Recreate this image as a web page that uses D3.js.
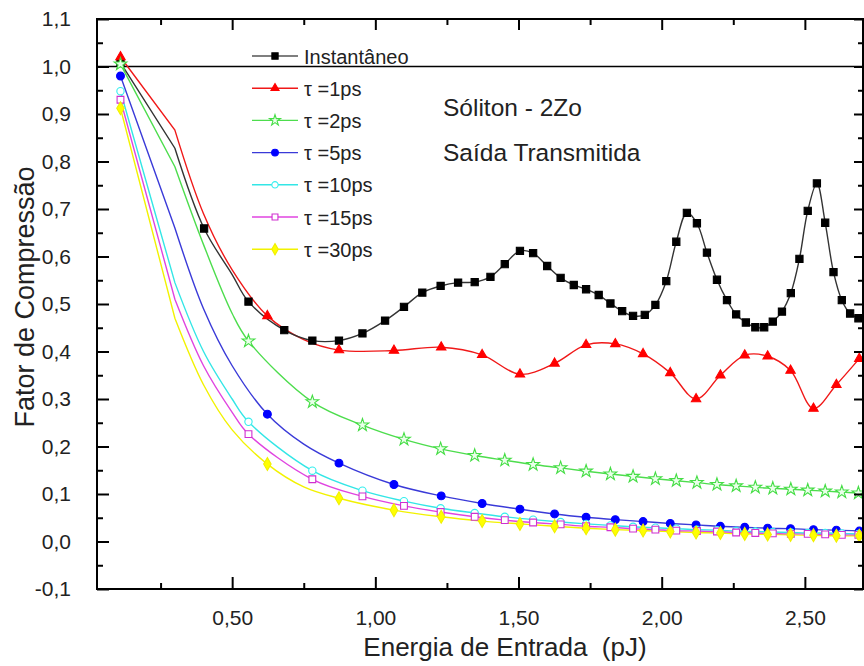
<!DOCTYPE html>
<html>
<head>
<meta charset="utf-8">
<script src="https://cdn.jsdelivr.net/npm/d3@7"></script>
<style>
  html, body { margin: 0; padding: 0; background: #fff; }
  svg { display: block; font-family: "Liberation Sans", Arial, sans-serif; }
</style>
</head>
<body>
<svg id="chart" width="864" height="666"></svg>
<script>
// ---------- DATA ----------
const energyA = [0.11, 0.3, 0.4, 0.5, 0.623, 0.75, 0.873, 1.065, 1.23, 1.373, 1.505, 1.626, 1.736, 1.838, 1.935, 2.03, 2.12, 2.205, 2.29, 2.37, 2.45, 2.53, 2.61, 2.69];
const energyB = [0.11, 0.3, 0.402, 0.5, 0.557, 0.682, 0.78, 0.873, 0.955, 1.034, 1.10, 1.164, 1.228, 1.289, 1.347, 1.402, 1.452, 1.505, 1.551, 1.60, 1.647, 1.693, 1.736, 1.78, 1.821, 1.862, 1.90, 1.941, 1.978, 2.016, 2.051, 2.088, 2.123, 2.158, 2.193, 2.228, 2.26, 2.294, 2.327, 2.358, 2.388, 2.42, 2.451, 2.481, 2.51, 2.542, 2.571, 2.60, 2.629, 2.658, 2.687];
const energyC = [0.11, 0.3, 0.4, 0.5, 0.557, 0.78, 0.955, 1.10, 1.228, 1.347, 1.452, 1.551, 1.647, 1.736, 1.821, 1.90, 1.978, 2.051, 2.123, 2.193, 2.26, 2.327, 2.388, 2.451, 2.51, 2.571, 2.629, 2.687];
const energyNoMarker = [0.3, 0.4, 0.5, 0.75];

const yInstantaneo = [1.008, 0.828, 0.659, 0.562, 0.505, 0.445, 0.423, 0.423, 0.438, 0.465, 0.494, 0.524, 0.538, 0.545, 0.546, 0.557, 0.584, 0.612, 0.607, 0.58, 0.555, 0.54, 0.531, 0.519, 0.501, 0.485, 0.475, 0.477, 0.498, 0.548, 0.631, 0.692, 0.67, 0.608, 0.551, 0.508, 0.478, 0.461, 0.451, 0.451, 0.463, 0.484, 0.523, 0.595, 0.696, 0.754, 0.671, 0.567, 0.508, 0.48, 0.47];
const yTau1 = [1.02, 0.866, 0.69, 0.572, 0.475, 0.425, 0.403, 0.402, 0.409, 0.393, 0.352, 0.375, 0.414, 0.416, 0.395, 0.355, 0.30, 0.35, 0.392, 0.39, 0.36, 0.28, 0.33, 0.385];
const yTau2 = [1.005, 0.789, 0.625, 0.48, 0.422, 0.294, 0.245, 0.215, 0.195, 0.181, 0.171, 0.162, 0.155, 0.148, 0.142, 0.137, 0.132, 0.128, 0.124, 0.12, 0.117, 0.114, 0.112, 0.11, 0.108, 0.106, 0.104, 0.102];
const yTau5 = [0.98, 0.66, 0.49, 0.37, 0.268, 0.205, 0.165, 0.12, 0.096, 0.08, 0.068, 0.058, 0.051, 0.046, 0.042, 0.038, 0.035, 0.032, 0.03, 0.028, 0.027, 0.025, 0.024, 0.022];
const yTau10 = [0.948, 0.545, 0.40, 0.30, 0.252, 0.149, 0.107, 0.085, 0.07, 0.06, 0.052, 0.046, 0.041, 0.037, 0.034, 0.031, 0.029, 0.027, 0.025, 0.024, 0.022, 0.021, 0.02, 0.019, 0.018, 0.018, 0.017, 0.016];
const yTau15 = [0.93, 0.51, 0.37, 0.272, 0.226, 0.131, 0.095, 0.075, 0.062, 0.052, 0.045, 0.04, 0.036, 0.032, 0.03, 0.027, 0.025, 0.023, 0.022, 0.021, 0.019, 0.018, 0.017, 0.016, 0.016, 0.015, 0.014, 0.014];
const yTau30 = [0.912, 0.47, 0.33, 0.235, 0.163, 0.115, 0.091, 0.066, 0.052, 0.043, 0.037, 0.032, 0.028, 0.025, 0.023, 0.021, 0.019, 0.018, 0.016, 0.015, 0.014, 0.013, 0.012, 0.012];

const seriesNames = ["Instantâneo", "τ =1ps", "τ =2ps", "τ =5ps", "τ =10ps", "τ =15ps", "τ =30ps"];
const xTickValues = [0.5, 1.0, 1.5, 2.0, 2.5];
const yTickValues = [-0.1, 0, 0.1, 0.2, 0.3, 0.4, 0.5, 0.6, 0.7, 0.8, 0.9, 1.0, 1.1];
const referenceLine = 1.0;
const annotations = ["Sóliton - 2Zo", "Saída Transmitida"];
const xTitle = "Energia de Entrada  (pJ)";
const yTitle = "Fator de Compressão";

// ---------- STYLE ----------
const styles = [
  {x: energyB, y: yInstantaneo, line: "#333", stroke: "#000", fill: "#000", sym: d3.symbolSquare, size: 52},
  {x: energyA, y: yTau1, line: "#f01818", stroke: "#f00", fill: "#f00", sym: d3.symbolTriangle, size: 38},
  {x: energyC, y: yTau2, line: "#4ddd4d", stroke: "#44dd44", fill: "#eaffea", sym: d3.symbolStar, size: 50},
  {x: energyA, y: yTau5, line: "#3a3ad8", stroke: "#0000ff", fill: "#0000ff", sym: d3.symbolCircle, size: 48},
  {x: energyC, y: yTau10, line: "#33e6e6", stroke: "#33eeee", fill: "#fff", sym: d3.symbolCircle, size: 42},
  {x: energyC, y: yTau15, line: "#e044e0", stroke: "#d030d0", fill: "#fff", sym: d3.symbolSquare, size: 46},
  {x: energyA, y: yTau30, line: "#f2f200", stroke: "#f0f000", fill: "#ffff00", sym: d3.symbolDiamond, size: 48}
];

// ---------- LAYOUT ----------
const svg = d3.select("#chart");
const L = 97, R = 863, T = 19, B = 589;
const x = d3.scaleLinear().domain([0.028, 2.703]).range([L, R]);
const y = d3.scaleLinear().domain([-0.1, 1.1]).range([B, T]);

svg.append("defs").append("clipPath").attr("id", "clip")
  .append("rect").attr("x", L).attr("y", T - 6).attr("width", R - L).attr("height", B - T + 6);

// reference line at 1.0
svg.append("line")
  .attr("x1", L).attr("x2", R).attr("y1", y(referenceLine)).attr("y2", y(referenceLine))
  .attr("stroke", "#000").attr("stroke-width", 1.6);

// series: straight first segment, spline afterwards
const splineGen = d3.line().curve(d3.curveCatmullRom.alpha(0.5));
const straightGen = d3.line();
const plot = svg.append("g").attr("clip-path", "url(#clip)");
styles.slice().reverse().forEach(s => {
  const pts = s.x.map((v, i) => [x(v), y(s.y[i])]);
  plot.append("path").attr("d", straightGen(pts.slice(0, 2)) + splineGen(pts.slice(1)).replace(/^M[^C]*?(?=C)/, ""))
    .attr("fill", "none").attr("stroke", s.line).attr("stroke-width", 1.4);
});
styles.forEach(s => {
  const sym = d3.symbol().type(s.sym).size(s.size);
  s.x.forEach((v, i) => {
    if (energyNoMarker.includes(v)) return;
    plot.append("path").attr("d", sym())
      .attr("transform", `translate(${x(v)},${y(s.y[i])})`)
      .attr("fill", s.fill).attr("stroke", s.stroke).attr("stroke-width", 1.1);
  });
});

// ---------- AXES ----------
const fmtX = v => d3.format(".2f")(v).replace(".", ",");
const fmtY = v => d3.format(".1f")(v).replace(".", ",").replace("−", "-");
const xMinor = d3.range(0.25, 2.7, 0.5);
const yMinor = d3.range(-0.05, 1.1, 0.1);

function styleAxis(g) {
  g.select(".domain").remove();
  g.selectAll(".tick line").attr("stroke", "#000").attr("stroke-width", 2);
  g.selectAll(".tick text").attr("fill", "#222").style("font-size", "21px")
    .style("font-family", "'Liberation Sans', Arial, sans-serif");
}

svg.append("g").attr("transform", `translate(0,${B})`)
  .call(d3.axisBottom(x).tickValues(xTickValues).tickFormat(fmtX).tickSizeInner(-12).tickSizeOuter(0).tickPadding(21)).call(styleAxis);
svg.append("g").attr("transform", `translate(0,${B})`)
  .call(d3.axisBottom(x).tickValues(xMinor).tickFormat("").tickSizeInner(-6).tickSizeOuter(0)).call(styleAxis);
svg.append("g").attr("transform", `translate(0,${T})`)
  .call(d3.axisTop(x).tickValues(xTickValues).tickFormat("").tickSizeInner(-11).tickSizeOuter(0)).call(styleAxis);
svg.append("g").attr("transform", `translate(0,${T})`)
  .call(d3.axisTop(x).tickValues(xMinor).tickFormat("").tickSizeInner(-6).tickSizeOuter(0)).call(styleAxis);
svg.append("g").attr("transform", `translate(${L},0)`)
  .call(d3.axisLeft(y).tickValues(yTickValues).tickFormat(fmtY).tickSizeInner(-12).tickSizeOuter(0).tickPadding(26)).call(styleAxis);
svg.append("g").attr("transform", `translate(${L},0)`)
  .call(d3.axisLeft(y).tickValues(yMinor).tickFormat("").tickSizeInner(-6).tickSizeOuter(0)).call(styleAxis);
svg.append("g").attr("transform", `translate(${R},0)`)
  .call(d3.axisRight(y).tickValues(yTickValues).tickFormat("").tickSizeInner(-9).tickSizeOuter(0)).call(styleAxis);
svg.append("g").attr("transform", `translate(${R},0)`)
  .call(d3.axisRight(y).tickValues(yMinor).tickFormat("").tickSizeInner(-5).tickSizeOuter(0)).call(styleAxis);

svg.append("rect").attr("x", L).attr("y", T).attr("width", R - L).attr("height", B - T)
  .attr("fill", "none").attr("stroke", "#000").attr("stroke-width", 2);

// titles
svg.append("text").attr("x", 505).attr("y", 656).attr("text-anchor", "middle")
  .style("font-size", "26px").style("white-space", "pre").attr("fill", "#222").text(xTitle);
svg.append("text").attr("transform", "translate(34,297) rotate(-90)").attr("text-anchor", "middle")
  .style("font-size", "27px").attr("fill", "#222").text(yTitle);

// annotations
svg.append("text").attr("x", 443).attr("y", 116).style("font-size", "24.5px").attr("fill", "#222").text(annotations[0]);
svg.append("text").attr("x", 443).attr("y", 161).style("font-size", "24.5px").attr("fill", "#222").text(annotations[1]);

// legend
const legRow0 = 56, legStep = 32.2;
styles.forEach((s, i) => {
  const ly = legRow0 + i * legStep;
  svg.append("line").attr("x1", 252).attr("x2", 298).attr("y1", ly).attr("y2", ly)
    .attr("stroke", i === 0 ? "#555" : s.line).attr("stroke-width", 1.4);
  svg.append("path").attr("d", d3.symbol().type(s.sym).size(s.size * 0.75)())
    .attr("transform", `translate(275,${ly})`)
    .attr("fill", s.fill).attr("stroke", s.stroke).attr("stroke-width", 1.1);
  svg.append("text").attr("x", 304).attr("y", ly + 7.5).style("font-size", "20px").attr("fill", "#222")
    .text(seriesNames[i]);
});
</script>
</body>
</html>
